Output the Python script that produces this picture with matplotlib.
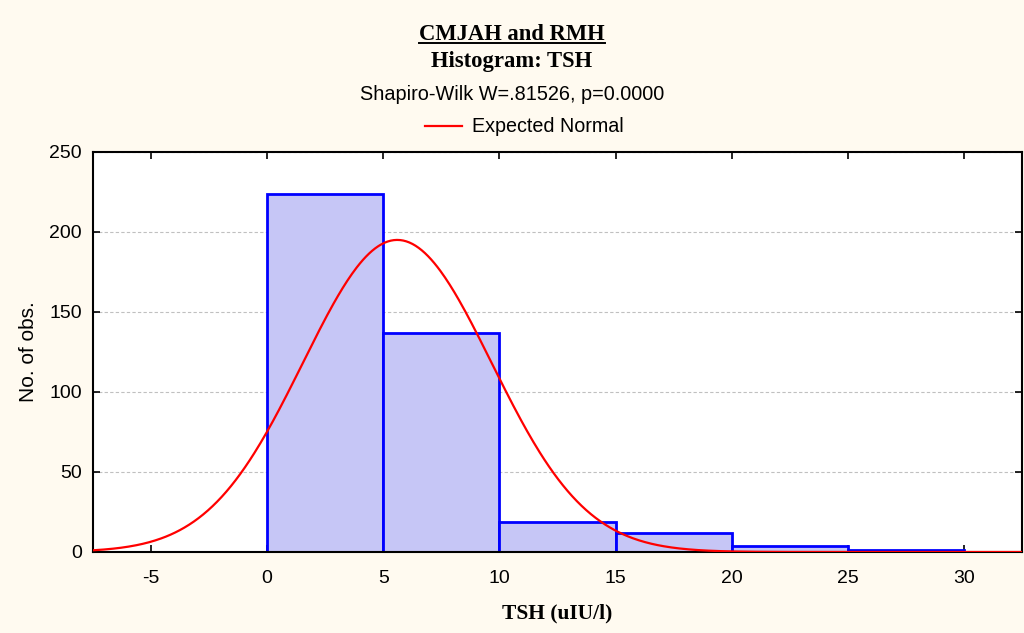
import numpy as np
import matplotlib
matplotlib.use("Agg")
import matplotlib.pyplot as plt
from matplotlib.lines import Line2D

plt.rcParams["axes.unicode_minus"] = False

# Data
bin_edges = [0, 5, 10, 15, 20, 25, 30]
counts = [224, 137, 19, 12, 4, 1]
norm_mean = 5.6
norm_sd = 4.06
x_ticks = [-5, 0, 5, 10, 15, 20, 25, 30]
y_ticks = [0, 50, 100, 150, 200, 250]
title1 = "CMJAH and RMH"
title2 = "Histogram: TSH"
subtitle = "Shapiro-Wilk W=.81526, p=0.0000"
legend_label = "Expected Normal"
xlabel = "TSH (uIU/l)"
ylabel = "No. of obs."

bg = "#fffaf0"
fig = plt.figure(figsize=(10.24, 6.33), dpi=100, facecolor=bg)
ax = fig.add_axes([93/1024, 1-552/633, (1022-93)/1024, (552-152)/633])
ax.set_facecolor("white")

widths = np.diff(bin_edges)
ax.bar(bin_edges[:-1], counts, width=widths, align="edge",
       facecolor="#c6c6f6", edgecolor="#0000ff", linewidth=2.0, zorder=2)

n = sum(counts)
bw = widths[0]
xs = np.linspace(-7.5, 32.5, 600)
ys = n * bw / (norm_sd * np.sqrt(2*np.pi)) * np.exp(-0.5*((xs-norm_mean)/norm_sd)**2)
ax.plot(xs, ys, color="#ff0000", linewidth=1.6, zorder=3)

ax.set_xlim(-7.5, 32.5)
ax.set_ylim(0, 250)
ax.set_xticks(x_ticks)
ax.set_yticks(y_ticks)
ax.tick_params(direction="in", length=5, width=1.2, top=True, right=True,
               labelsize=14, colors="black")
ax.tick_params(axis="x", pad=13)
ax.tick_params(axis="y", pad=8)
for lab in ax.get_xticklabels() + ax.get_yticklabels():
    lab.set_fontfamily("Liberation Sans")
ax.yaxis.grid(True, linestyle=(0, (3, 2)), color="#c0c0c0", linewidth=0.8, zorder=0)
ax.set_axisbelow(True)
for s in ax.spines.values():
    s.set_linewidth(1.5)

ax.set_xlabel(xlabel, fontfamily="Liberation Serif", fontweight="bold", fontsize=15.5)
ax.xaxis.set_label_coords(0.5, -0.128)
ax.set_ylabel(ylabel, fontfamily="Liberation Sans", fontsize=15)
ax.yaxis.set_label_coords(-0.059, 0.5)

t1 = fig.text(0.5, 1-34/633, title1, ha="center", va="center",
              fontfamily="Liberation Serif", fontweight="bold", fontsize=16.3)
fig.text(0.5, 1-61/633, title2, ha="center", va="center",
         fontfamily="Liberation Serif", fontweight="bold", fontsize=16.3)
fig.text(0.5, 1-95/633, subtitle, ha="center", va="center",
         fontfamily="Liberation Sans", fontsize=14.3)

# legend
fig.add_artist(Line2D([425/1024, 462/1024], [1-126/633, 1-126/633], color="#ff0000", linewidth=1.6))
fig.text(472/1024, 1-126/633, legend_label, ha="left", va="center",
         fontfamily="Liberation Sans", fontsize=14.2)

# underline title
fig.canvas.draw()
bb = t1.get_window_extent().transformed(fig.transFigure.inverted())
fig.add_artist(Line2D([bb.x0, bb.x1], [bb.y0 + 0.002, bb.y0 + 0.002], color="black", linewidth=1.4))

fig.savefig("out.png", dpi=100, facecolor=bg)
